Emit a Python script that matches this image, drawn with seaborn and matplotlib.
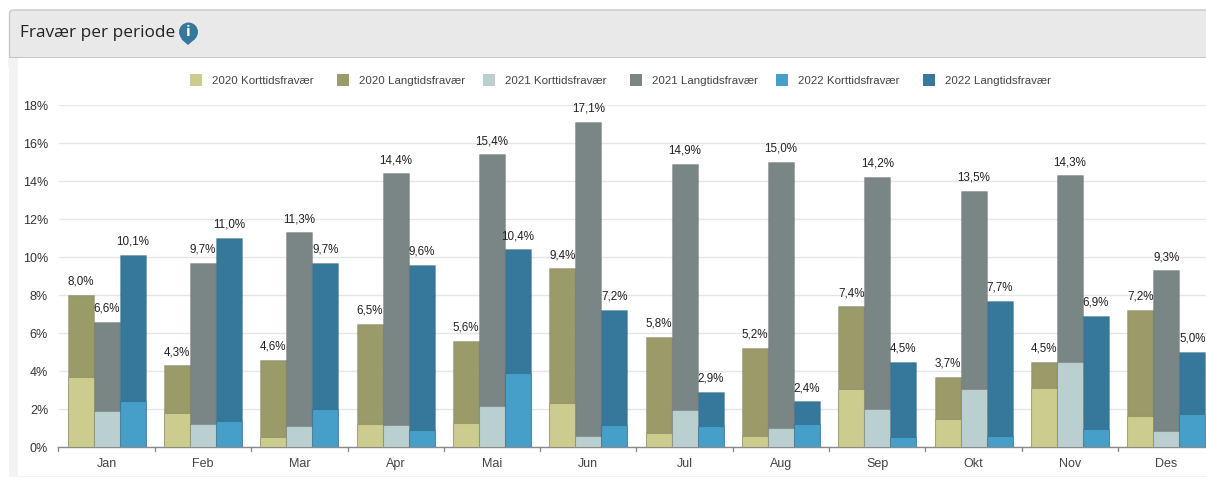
#!/usr/bin/env python3

import matplotlib

matplotlib.use("Agg")
import matplotlib.pyplot as plt
import pandas as pd
import seaborn as sns
from matplotlib.patches import Circle, FancyBboxPatch, Polygon, Rectangle

sns.set_theme(style="white", font="Liberation Sans")

months = ["Jan", "Feb", "Mar", "Apr", "Mai", "Jun", "Jul", "Aug", "Sep", "Okt", "Nov", "Des"]
years = ["2020", "2021", "2022"]

kort_2020 = [3.7, 1.8, 0.55, 1.2, 1.25, 2.3, 0.75, 0.6, 3.05, 1.45, 3.1, 1.65]
total_2020 = [8.0, 4.3, 4.6, 6.5, 5.6, 9.4, 5.8, 5.2, 7.4, 3.7, 4.5, 7.2]
kort_2021 = [1.9, 1.2, 1.1, 1.15, 2.15, 0.6, 1.95, 1.0, 2.0, 3.05, 4.5, 0.85]
total_2021 = [6.6, 9.7, 11.3, 14.4, 15.4, 17.1, 14.9, 15.0, 14.2, 13.5, 14.3, 9.3]
kort_2022 = [2.4, 1.35, 2.0, 0.9, 3.9, 1.15, 1.1, 1.2, 0.55, 0.6, 0.95, 1.75]
total_2022 = [10.1, 11.0, 9.7, 9.6, 10.4, 7.2, 2.9, 2.4, 4.5, 7.7, 6.9, 5.0]

kort_colors = ["#cccc8e", "#bacfd0", "#469fc9"]
lang_colors = ["#9b9b69", "#7a8685", "#35789b"]

df = pd.DataFrame(
    {
        "month": months * 3,
        "year": [y for y in years for _ in months],
        "kort": kort_2020 + kort_2021 + kort_2022,
        "total": total_2020 + total_2021 + total_2022,
    }
)

W, H = 1206, 482
f = plt.figure(figsize=(W / 100, H / 100), dpi=100)


def px_rect(x0, y0, x1, y1, **kw):
    # rectangle in image pixels, y from the top
    f.add_artist(Rectangle((x0 / W, 1 - y1 / H), (x1 - x0) / W, (y1 - y0) / H,
                           transform=f.transFigure, linewidth=0, **kw))


# header first, its lower corners get covered by the panel
f.add_artist(FancyBboxPatch((9.5, H - 70), W, 60, boxstyle="round,pad=0,rounding_size=4",
                            transform=None, facecolor="#e9e9e9", edgecolor="#c8c8c8", linewidth=1))
px_rect(9, 57, W, 477, color="#f3f3f3")
px_rect(18, 57, W, 476, color="white")
px_rect(9, 57, W, 58, color="#c4c4c4")
f.text(20 / W, 1 - 33 / H, "Fravær per periode", fontsize=12.4, family="Open Sans",
       color="#222222", va="center")
f.add_artist(Polygon([(181, H - 39), (195, H - 39), (188, H - 45)], transform=None,
                     facecolor="#35789b", edgecolor="none"))
f.add_artist(Circle((188.5, H - 32), 9.5, transform=None, facecolor="#35789b", edgecolor="none"))
f.text(188.5 / W, 1 - 32 / H, "i", fontsize=11, fontweight="bold", family="Open Sans",
       color="white", ha="center", va="center")

# axes run past the right edge of the image, as in the reference
left, right, top, bottom = 58.5, 1214.5, 105, 447
ax = f.add_axes([left / W, 1 - bottom / H, (right - left) / W, (bottom - top) / H])
ax.patch.set_alpha(0)
ax.set_zorder(5)

sns.barplot(data=df, x="month", y="total", hue="year", hue_order=years, palette=lang_colors,
            saturation=1, width=0.81, gap=0, errorbar=None, legend=False, ax=ax,
            edgecolor="#00000022", linewidth=0.8, zorder=2)
sns.barplot(data=df, x="month", y="kort", hue="year", hue_order=years, palette=kort_colors,
            saturation=1, width=0.81, gap=0, errorbar=None, legend=False, ax=ax,
            edgecolor="#00000022", linewidth=0.8, zorder=3)

# total labels over each column
for cont in ax.containers[:3]:
    ax.bar_label(cont, labels=[f"{b.get_height():.1f}%".replace(".", ",") for b in cont],
                 padding=5.2, fontsize=8.4, color="#222222", zorder=5)

ax.set_xlim(-0.5, 11.5)
ax.set_ylim(0, 18)
ax.set_yticks(range(0, 19, 2))
ax.set_yticklabels([f"{v}%" for v in range(0, 19, 2)])
ax.set_xlabel("")
ax.set_ylabel("")
ax.grid(axis="y", color="#e6e6e6", linewidth=1, zorder=0)
ax.set_axisbelow(True)
ax.tick_params(axis="y", length=0, pad=7.5, labelsize=9, labelcolor="#333333")
ax.tick_params(axis="x", length=0, pad=8, labelsize=9, labelcolor="#444444")
sns.despine(ax=ax, left=True)
ax.spines["bottom"].set_color("#8a8a8a")
ax.spines["bottom"].set_linewidth(1)
for k in range(12):
    ax.plot([k - 0.5, k - 0.5], [0, -0.22], color="#8a8a8a", linewidth=1, clip_on=False)

# legend
labels = [f"{y} {kind}" for y in years for kind in ("Korttidsfravær", "Langtidsfravær")]
colors = [c for pair in zip(kort_colors, lang_colors) for c in pair]
swatch_x = [190, 337, 483, 630, 776, 923]
for x, lab, col in zip(swatch_x, labels, colors):
    px_rect(x, 74, x + 12, 86, color=col)
    f.text((x + 22) / W, 1 - 80.5 / H, lab, fontsize=8.25, color="#444444", va="center")

plt.savefig("out.png", dpi=100)
